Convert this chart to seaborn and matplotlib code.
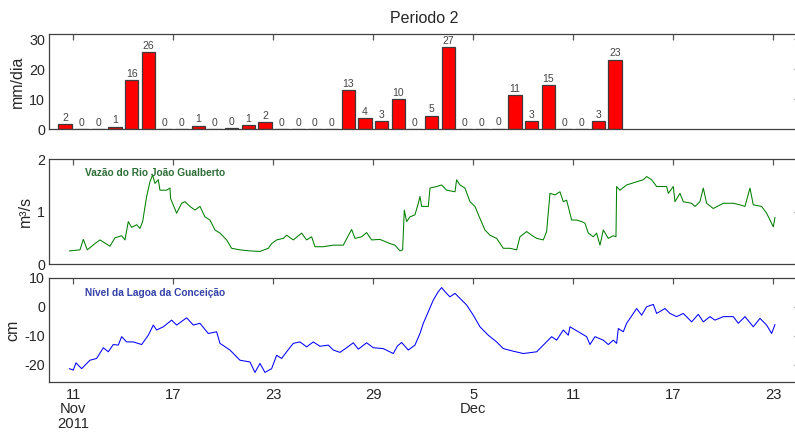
import numpy as np
import pandas as pd
import matplotlib
matplotlib.use("Agg")
import matplotlib.pyplot as plt
import seaborn as sns

# ---------------- data ----------------
# daily rainfall (mm/dia), days starting 10 Nov 2011; bars centred at mid-day
rain_start = "2011-11-10"
rain_values = [1.7, 0, 0, 0.9, 16.4, 25.7, 0, 0, 1.2, 0, 0.45, 1.4, 2.4, 0, 0, 0, 0,
               13.0, 3.8, 2.8, 10.0, 0, 4.6, 27.3, 0, 0, 0.2, 11.3, 2.8, 14.7, 0, 0, 2.8, 23.2]

# river discharge (m3/s); time in days since 11 Nov 2011 00:00
flow_t = [-0.24, 0.40, 0.60, 0.84, 1.30, 1.60, 2.00, 2.20, 2.50, 2.90, 3.10, 3.30, 3.50, 3.80,
          4.00, 4.16, 4.40, 4.60, 4.76, 4.90, 5.10, 5.20, 5.60, 5.80, 5.84, 6.20, 6.50, 6.70,
          7.00, 7.30, 7.60, 7.90, 8.20, 8.50, 8.80, 9.20, 9.50, 10.00, 10.60, 11.20, 11.70,
          11.90, 12.20, 12.60, 12.80, 13.20, 13.70, 14.00, 14.30, 14.50, 15.00, 15.60, 16.20,
          16.70, 16.90, 17.30, 17.60, 17.90, 18.40, 19.00, 19.30, 19.60, 19.76, 19.86, 20.00,
          20.20, 20.50, 20.70, 20.80, 20.90, 21.30, 21.40, 21.80, 22.10, 22.40, 22.90, 23.00,
          23.20, 23.50, 23.80, 24.10, 24.40, 24.70, 25.00, 25.40, 25.80, 26.20, 26.60, 26.80,
          27.20, 27.50, 27.80, 28.20, 28.40, 28.60, 28.90, 29.20, 29.40, 29.60, 29.90, 30.20,
          30.50, 30.70, 30.90, 31.20, 31.40, 31.60, 31.80, 32.10, 32.40, 32.56, 32.60, 32.80,
          33.20, 33.80, 34.20, 34.40, 34.70, 35.00, 35.60, 35.70, 36.00, 36.10, 36.40, 36.60,
          37.10, 37.30, 37.60, 37.80, 38.00, 38.40, 39.00, 39.60, 40.00, 40.30, 40.60, 40.80,
          41.30, 41.60, 41.80, 42.00, 42.10]
flow_v = [0.25, 0.27, 0.47, 0.27, 0.39, 0.46, 0.38, 0.34, 0.50, 0.54, 0.46, 0.81, 0.70, 0.75,
          0.68, 0.81, 1.29, 1.57, 1.70, 1.54, 1.61, 1.41, 1.41, 1.45, 1.25, 0.97, 1.16, 1.19,
          1.10, 1.03, 1.10, 0.90, 0.84, 0.65, 0.59, 0.46, 0.30, 0.27, 0.25, 0.24, 0.30,
          0.39, 0.46, 0.49, 0.55, 0.46, 0.59, 0.46, 0.52, 0.33, 0.33, 0.36, 0.36,
          0.66, 0.49, 0.52, 0.60, 0.46, 0.47, 0.39, 0.36, 0.25, 0.27, 1.03, 0.81,
          0.90, 0.94, 1.16, 1.29, 1.10, 1.10, 1.45, 1.48, 1.51, 1.41, 1.38, 1.61,
          1.51, 1.45, 1.19, 1.10, 0.87, 0.65, 0.55, 0.49, 0.30, 0.30, 0.27, 0.52,
          0.62, 0.55, 0.49, 0.46, 0.62, 1.35, 1.32, 1.38, 1.19, 1.22, 0.84, 0.84,
          0.81, 0.78, 0.59, 0.52, 0.59, 0.36, 0.65, 0.49, 0.54, 0.52, 1.48, 1.41,
          1.51, 1.57, 1.61, 1.67, 1.61, 1.48, 1.48, 1.35, 1.48, 1.19, 1.35, 1.19,
          1.16, 1.10, 1.19, 1.45, 1.16, 1.06, 1.16, 1.16, 1.13, 1.10, 1.45, 1.13,
          1.10, 0.97, 0.84, 0.71, 0.89]

# lagoon level (cm); time in days since 11 Nov 2011 00:00
level_t = [-0.24, 0.00, 0.16, 0.50, 1.00, 1.40, 1.80, 2.10, 2.40, 2.70, 2.90, 3.20, 3.60, 4.10,
           4.50, 4.80, 5.00, 5.40, 5.90, 6.20, 6.80, 7.20, 7.60, 8.10, 8.60, 8.80, 9.40, 10.00,
           10.60, 10.90, 11.20, 11.50, 11.90, 12.20, 12.50, 12.80, 13.20, 13.60, 14.00, 14.40,
           14.80, 15.30, 15.60, 16.00, 16.40, 16.80, 17.10, 17.60, 18.00, 18.60, 19.20, 19.45,
           19.70, 20.10, 20.50, 20.80, 21.00, 21.30, 21.60, 21.90, 22.10, 22.30, 22.60, 22.90,
           23.20, 23.60, 24.00, 24.40, 24.90, 25.40, 25.80, 26.40, 27.00, 27.80, 28.20, 28.70,
           29.00, 29.40, 29.70, 29.80, 30.30, 30.80, 31.00, 31.30, 31.80, 32.10, 32.40, 32.60,
           32.70, 33.00, 33.20, 33.80, 34.10, 34.40, 34.80, 35.00, 35.50, 35.80, 36.20, 36.60,
           37.10, 37.50, 37.80, 38.20, 38.50, 39.00, 39.60, 39.90, 40.30, 40.80, 41.20, 41.60,
           41.90, 42.10]
level_v = [-21.3, -21.8, -19.3, -21.3, -18.4, -17.8, -14.1, -15.5, -13.0, -13.2, -10.3, -12.1,
           -12.1, -13.0, -9.8, -6.3, -8.0, -6.9, -4.6, -6.3, -3.8, -6.3, -5.7, -9.2, -8.6,
           -12.6, -14.9, -18.4, -19.0, -22.6, -19.5, -22.6, -21.3, -16.7, -17.8, -15.5, -12.6,
           -12.1, -13.8, -12.1, -13.6, -13.2, -14.9, -15.7, -14.1, -12.4, -14.6, -12.4, -14.1,
           -14.4, -16.1, -13.5, -12.3, -14.9, -13.2, -9.2, -5.7, -1.7, 2.3, 5.2, 6.6, 5.2,
           3.4, 4.6, 2.9, 0.6, -2.9, -6.9, -9.8, -12.1, -14.4, -15.3, -16.1, -15.5, -13.2,
           -10.3, -11.5, -8.0, -9.8, -6.9, -8.6, -10.3, -13.0, -10.3, -11.5, -13.0, -11.5,
           -12.6, -7.5, -8.6, -5.7, -0.6, -2.9, 0.0, 0.8, -2.3, -0.6, -2.3, -3.4, -2.3, -5.2,
           -2.6, -5.2, -3.4, -4.6, -3.4, -3.4, -5.7, -3.4, -6.9, -4.0, -6.3, -9.2, -6.1]

# x tick positions (days since 11 Nov) and labels
tick_days = [0, 6, 12, 18, 24, 30, 36, 42]
tick_labels = ["11\nNov\n2011", "17", "23", "29", "5\nDec", "11", "17", "23"]

title = "Periodo 2"
flow_label = "Vazão do Rio João Gualberto"
level_label = "Nível da Lagoa da Conceição"

# ---------------- styling ----------------
sns.set_theme(style="white")
plt.rcParams["font.family"] = ["Liberation Sans", "DejaVu Sans"]
plt.rcParams["axes.unicode_minus"] = False

W, H = 795, 444
fig = plt.figure(figsize=(W / 100, H / 100), dpi=100)

left_px, right_px = 49.3, 800.0
def axpos(top_px, bot_px):
    return [left_px / W, 1 - bot_px / H, (right_px - left_px) / W, (bot_px - top_px) / H]

ax1 = fig.add_axes(axpos(34.0, 129.3))
ax2 = fig.add_axes(axpos(159.3, 264.0))
ax3 = fig.add_axes(axpos(277.7, 382.3))

day_px = 100 / 6.0
x0 = -(73.3 - left_px) / day_px
x1 = (right_px - 73.3) / day_px

# rainfall bars
rain_dates = pd.date_range(rain_start, periods=len(rain_values), freq="D")
rain_df = pd.DataFrame({
    "pos": (rain_dates - pd.Timestamp("2011-11-11")).days + 0.5,
    "mm": rain_values,
})
sns.barplot(data=rain_df, x="pos", y="mm", native_scale=True, color="#ff0000",
            saturation=1, edgecolor="#3c3c3c", linewidth=0.9, errorbar=None, ax=ax1)
ax1.bar_label(ax1.containers[0], fmt="%.0f", padding=1, fontsize=7.5, color="#444444")
ax1.set_ylim(0, 31.8)
ax1.set_yticks([0, 10, 20, 30])
ax1.set_ylabel("mm/dia", fontsize=11.5, labelpad=3)
ax1.set_title(title, fontsize=11.5, pad=8)

# river flow
flow_df = pd.DataFrame({"t": flow_t, "v": flow_v})
sns.lineplot(data=flow_df, x="t", y="v", color="#008000", linewidth=0.75, ax=ax2,
             estimator=None, sort=False)
ax2.set_ylim(0, 2)
ax2.set_yticks([0, 1, 2])
ax2.set_ylabel("m³/s", fontsize=11.5, labelpad=3)
ax2.text(0.047, 0.869, flow_label, transform=ax2.transAxes, fontsize=7.3,
         fontweight="bold", color="#2e6e36", va="center", ha="left")

# lagoon level
level_df = pd.DataFrame({"t": level_t, "v": level_v})
sns.lineplot(data=level_df, x="t", y="v", color="#0000ff", linewidth=0.75, ax=ax3,
             estimator=None, sort=False)
ax3.set_ylim(-26, 10)
ax3.set_yticks([-20, -10, 0, 10])
ax3.set_ylabel("cm", fontsize=11.5, labelpad=3)
ax3.text(0.048, 0.854, level_label, transform=ax3.transAxes, fontsize=7.3,
         fontweight="bold", color="#3341a8", va="center", ha="left")

for ax in (ax1, ax2, ax3):
    ax.set_xlim(x0, x1)
    ax.set_xticks(tick_days)
    ax.set_xlabel("")
    ax.tick_params(axis="both", direction="in", length=4, width=0.9, color="#555555",
                   top=True, right=True, labelsize=10.3, pad=3)
    for s in ax.spines.values():
        s.set_color("#404040")
        s.set_linewidth(0.9)

ax1.set_xticklabels([])
ax2.set_xticklabels([])
ax3.set_xticklabels(tick_labels, linespacing=1.05)
ax3.tick_params(axis="x", labelsize=10.6, pad=4)

fig.savefig("out.png", dpi=100)
